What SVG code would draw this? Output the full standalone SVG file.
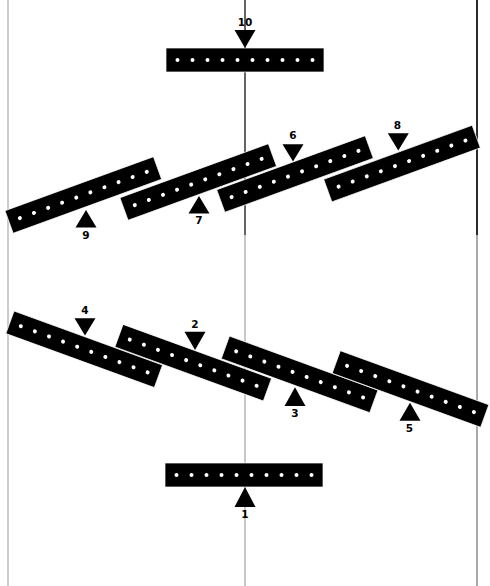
<svg xmlns="http://www.w3.org/2000/svg" width="490" height="586" viewBox="0 0 490 586">
<defs>
<style>
.bar{fill:#000;stroke:#fff;stroke-width:0.7}
.dot{fill:#fff}
.tri{fill:#000}
.lbl{font-family:"DejaVu Sans",sans-serif;font-weight:bold;font-size:10.5px;fill:#000;text-anchor:middle}
</style>
<g id="holes">
<rect class="bar" x="-79" y="-12" width="158" height="24"/>
<circle class="dot" cx="-67.5" cy="0" r="2"/>
<circle class="dot" cx="-52.5" cy="0" r="2"/>
<circle class="dot" cx="-37.5" cy="0" r="2"/>
<circle class="dot" cx="-22.5" cy="0" r="2"/>
<circle class="dot" cx="-7.5" cy="0" r="2"/>
<circle class="dot" cx="7.5" cy="0" r="2"/>
<circle class="dot" cx="22.5" cy="0" r="2"/>
<circle class="dot" cx="37.5" cy="0" r="2"/>
<circle class="dot" cx="52.5" cy="0" r="2"/>
<circle class="dot" cx="67.5" cy="0" r="2"/>
</g>
</defs>
<rect width="490" height="586" fill="#fff"/>
<g id="connectors">
<line x1="8" y1="0" x2="8" y2="586" stroke="#999" stroke-width="1"/>
<line x1="245" y1="0" x2="245" y2="586" stroke="#aaa" stroke-width="1.3"/>
<line x1="245" y1="0" x2="245" y2="235" stroke="#000" stroke-width="1"/>
<line x1="477" y1="0" x2="477" y2="586" stroke="#555" stroke-width="1"/>
<line x1="477" y1="0" x2="477" y2="235" stroke="#000" stroke-width="1.5"/>
</g>
<g id="node10">
<use href="#holes" transform="translate(245,60)"/>
<polygon class="tri" points="234.5,30 255.5,30 245,48"/>
<text class="lbl" x="245" y="26">10</text>
</g>
<g id="node1">
<use href="#holes" transform="translate(244,475)"/>
<polygon class="tri" points="245,487 234.5,507 255.5,507"/>
<text class="lbl" x="245" y="518">1</text>
</g>
<g id="node9">
<use href="#holes" transform="translate(83.3,195) rotate(-20)"/>
<polygon class="tri" points="86,210 75.5,227.5 96.5,227.5"/>
<text class="lbl" x="86" y="238.5">9</text>
</g>
<g id="node6">
<use href="#holes" transform="translate(295,174) rotate(-20)"/>
<polygon class="tri" points="282.5,144.3 303.5,144.3 293,161.5"/>
<text class="lbl" x="293" y="139">6</text>
</g>
<g id="node7">
<use href="#holes" transform="translate(198.2,182) rotate(-20)"/>
<polygon class="tri" points="199,196 188.5,213.5 209.5,213.5"/>
<text class="lbl" x="199" y="224">7</text>
</g>
<g id="node8">
<use href="#holes" transform="translate(402,163.6) rotate(-20)"/>
<polygon class="tri" points="387.8,133.3 408.8,133.3 398.3,150.5"/>
<text class="lbl" x="397.5" y="129">8</text>
</g>
<g id="node4">
<use href="#holes" transform="translate(84.2,349.3) rotate(20)"/>
<polygon class="tri" points="74.5,318.3 95.5,318.3 85,335.5"/>
<text class="lbl" x="85" y="314">4</text>
</g>
<g id="node3">
<use href="#holes" transform="translate(299.6,374.4) rotate(20)"/>
<polygon class="tri" points="295,387.3 284.5,406 305.5,406"/>
<text class="lbl" x="295" y="417">3</text>
</g>
<g id="node2">
<use href="#holes" transform="translate(193.2,362.7) rotate(20)"/>
<polygon class="tri" points="184.5,331.7 205.5,331.7 195,350"/>
<text class="lbl" x="195" y="327.5">2</text>
</g>
<g id="node5">
<use href="#holes" transform="translate(410.5,389) rotate(20)"/>
<polygon class="tri" points="410,402.7 399.5,420.7 420.5,420.7"/>
<text class="lbl" x="409.5" y="432">5</text>
</g>
</svg>
